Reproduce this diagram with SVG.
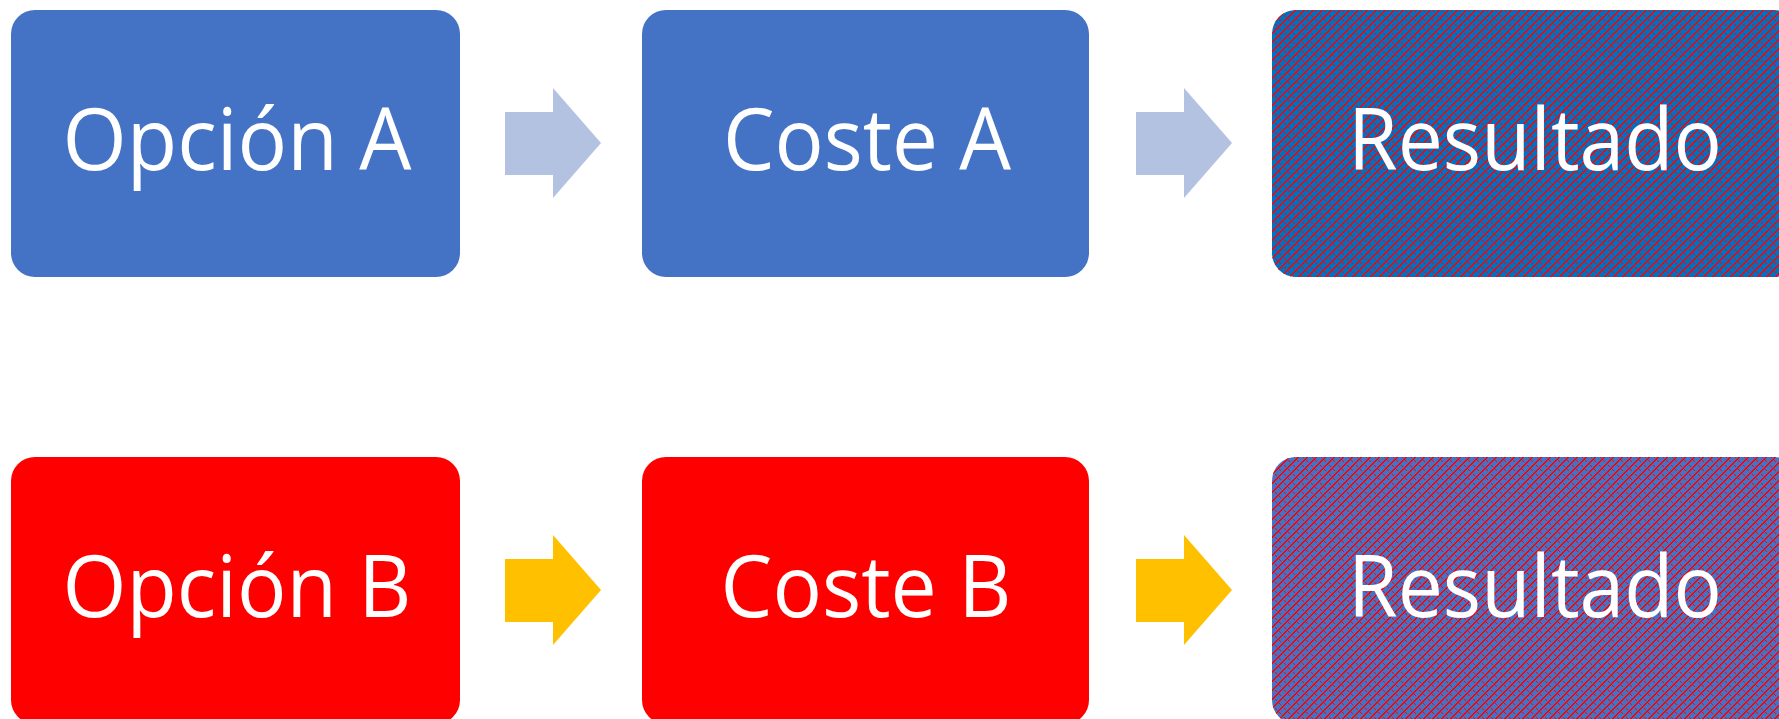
<svg xmlns="http://www.w3.org/2000/svg" width="1779" height="719" viewBox="0 0 1779 719">
  <style>
    .box { stroke: none; }
    .blue { fill: #4472C4; }
    .red { fill: #FF0000; }
    .label { font-family: "Open Sans", "Liberation Sans", sans-serif; font-size: 86px; fill: #FFFFFF; text-anchor: middle; }
    .arrow-light { fill: #B4C2E1; }
    .arrow-gold { fill: #FFC000; }
  </style>
  <defs>
    <!-- red diagonal cross-hatch, drawn pixel by pixel -->
    <pattern id="hatch" patternUnits="userSpaceOnUse" width="9" height="9">
      <g fill="#FF0000" shape-rendering="crispEdges">
        <rect x="0" y="8" width="2" height="1"/>
        <rect x="1" y="7" width="2" height="1"/>
        <rect x="2" y="6" width="2" height="1"/>
        <rect x="3" y="5" width="2" height="1"/>
        <rect x="4" y="4" width="2" height="1"/>
        <rect x="5" y="3" width="2" height="1"/>
        <rect x="6" y="2" width="2" height="1"/>
        <rect x="7" y="1" width="2" height="1"/>
        <rect x="8" y="0" width="1" height="1"/>
        <rect x="0" y="0" width="1" height="1"/>
        <rect x="1" y="1" width="1" height="1"/>
        <rect x="2" y="2" width="1" height="1"/>
        <rect x="6" y="6" width="1" height="1"/>
        <rect x="7" y="7" width="1" height="1"/>
      </g>
    </pattern>
    <path id="arrow" d="M0,24 H48 V0 L96,55 L48,110 V87 H0 Z"/>
  </defs>

  <!-- row A -->
  <g id="opcion-a">
    <rect class="box blue" x="11" y="10" width="449" height="267" rx="24"/>
    <text class="label" x="237" y="170" textLength="349" lengthAdjust="spacingAndGlyphs">Opción A</text>
  </g>
  <g id="coste-a">
    <rect class="box blue" x="642" y="10" width="447" height="267" rx="24"/>
    <text class="label" x="867" y="170" textLength="288" lengthAdjust="spacingAndGlyphs">Coste A</text>
  </g>
  <g id="resultado-a">
    <rect class="box" fill="#0070C0" x="1272" y="10" width="526" height="267" rx="24"/>
    <rect class="box" fill="url(#hatch)" x="1272" y="10" width="526" height="267" rx="24"/>
    <text class="label" x="1535" y="170" textLength="374" lengthAdjust="spacingAndGlyphs">Resultado</text>
  </g>

  <!-- row B -->
  <g id="opcion-b">
    <rect class="box red" x="11" y="457" width="449" height="267" rx="24"/>
    <text class="label" x="237" y="617" textLength="349" lengthAdjust="spacingAndGlyphs">Opción B</text>
  </g>
  <g id="coste-b">
    <rect class="box red" x="642" y="457" width="447" height="267" rx="24"/>
    <text class="label" x="866" y="617" textLength="291" lengthAdjust="spacingAndGlyphs">Coste B</text>
  </g>
  <g id="resultado-b">
    <rect class="box blue" x="1272" y="457" width="526" height="267" rx="24"/>
    <rect class="box" fill="url(#hatch)" x="1272" y="457" width="526" height="267" rx="24"/>
    <text class="label" x="1535" y="617" textLength="374" lengthAdjust="spacingAndGlyphs">Resultado</text>
  </g>

  <!-- connectors -->
  <g id="connectors">
    <use href="#arrow" class="arrow-light" x="505" y="88"/>
    <use href="#arrow" class="arrow-light" x="1136" y="88"/>
    <use href="#arrow" class="arrow-gold" x="505" y="535"/>
    <use href="#arrow" class="arrow-gold" x="1136" y="535"/>
  </g>
</svg>
